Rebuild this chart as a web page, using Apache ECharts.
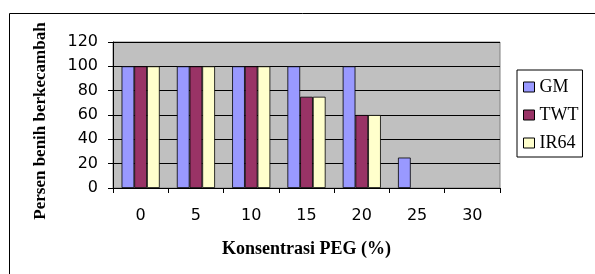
<!DOCTYPE html>
<html>
<head>
<meta charset="utf-8">
<script src="https://cdn.jsdelivr.net/npm/echarts@6/dist/echarts.min.js"></script>
<style>
  html, body { margin: 0; padding: 0; background: #fff; }
  #chart { width: 595px; height: 274px; }
</style>
</head>
<body>
<div id="chart"></div>
<script>
// konsentrasi PEG (%)
var categories = ['0', '5', '10', '15', '20', '25', '30']
var gm = [100, 100, 100, 100, 100, 25, 0]
var twt = [100, 100, 100, 75, 60, 0, 0]
var ir64 = [100, 100, 100, 75, 60, 0, 0]

var chart = echarts.init(document.getElementById('chart'))

function barSeries(name, data, color) {
  return {
    name: name,
    type: 'bar',
    // zero bars draw nothing in the original, so drop their outline
    data: data.map(function (v) {
      return v === 0 ? { value: v, itemStyle: { borderWidth: 0 } } : v
    }),
    barGap: '0%',
    barCategoryGap: '31%',
    itemStyle: { color: color, borderColor: '#000', borderWidth: 0.8 },
    emphasis: { disabled: true }
  }
}

chart.setOption({
  animation: false,
  graphic: [
    {
      // outer chart border (only top and left are inside the picture)
      type: 'rect',
      left: 7, top: 11,
      shape: { width: 700, height: 400 },
      style: { fill: 'none', stroke: '#000', lineWidth: 1 },
      z: -1
    }
  ],
  grid: {
    left: 113,
    right: 95,
    top: 42,
    bottom: 86,
    show: true,
    backgroundColor: '#c0c0c0',
    borderColor: '#808080',
    borderWidth: 1
  },
  legend: {
    orient: 'vertical',
    left: 517,
    top: 70,
    width: 75,
    padding: [8, 4, 5, 6],
    backgroundColor: '#fff',
    borderColor: '#000',
    borderWidth: 1,
    borderRadius: 0,
    itemWidth: 11,
    itemHeight: 10,
    itemGap: 10,
    icon: 'rect',
    itemStyle: { borderColor: '#000', borderWidth: 1 },
    textStyle: { fontFamily: 'Liberation Serif', fontSize: 18, color: '#000', lineHeight: 18 },
    data: ['GM', 'TWT', 'IR64']
  },
  xAxis: {
    type: 'category',
    data: categories,
    name: 'Konsentrasi PEG (%)',
    nameLocation: 'middle',
    nameGap: 52,
    nameTextStyle: { fontFamily: 'Liberation Serif', fontWeight: 'bold', fontSize: 18, color: '#000' },
    axisLine: { lineStyle: { color: '#000', width: 1 } },
    axisTick: { show: true, length: 5, inside: false, lineStyle: { color: '#000' } },
    axisLabel: { margin: 20, fontFamily: 'DejaVu Sans', fontSize: 16, color: '#000' },
    splitLine: { show: false }
  },
  yAxis: {
    type: 'value',
    min: 0,
    max: 120,
    interval: 20,
    name: 'Persen benih berkecambah',
    nameLocation: 'middle',
    nameGap: 64,
    nameTextStyle: { fontFamily: 'Liberation Serif', fontWeight: 'bold', fontSize: 17, color: '#000', padding: [0, 12, 0, 0] },
    axisLine: { show: true, lineStyle: { color: '#000', width: 1 } },
    axisTick: { show: true, length: 5, lineStyle: { color: '#000' } },
    axisLabel: { margin: 15, fontFamily: 'DejaVu Sans', fontSize: 16, color: '#000' },
    splitLine: { show: true, lineStyle: { color: '#000', width: 1 } }
  },
  series: [
    barSeries('GM', gm, '#9999ff'),
    barSeries('TWT', twt, '#993366'),
    barSeries('IR64', ir64, '#ffffcc')
  ]
})
</script>
</body>
</html>
